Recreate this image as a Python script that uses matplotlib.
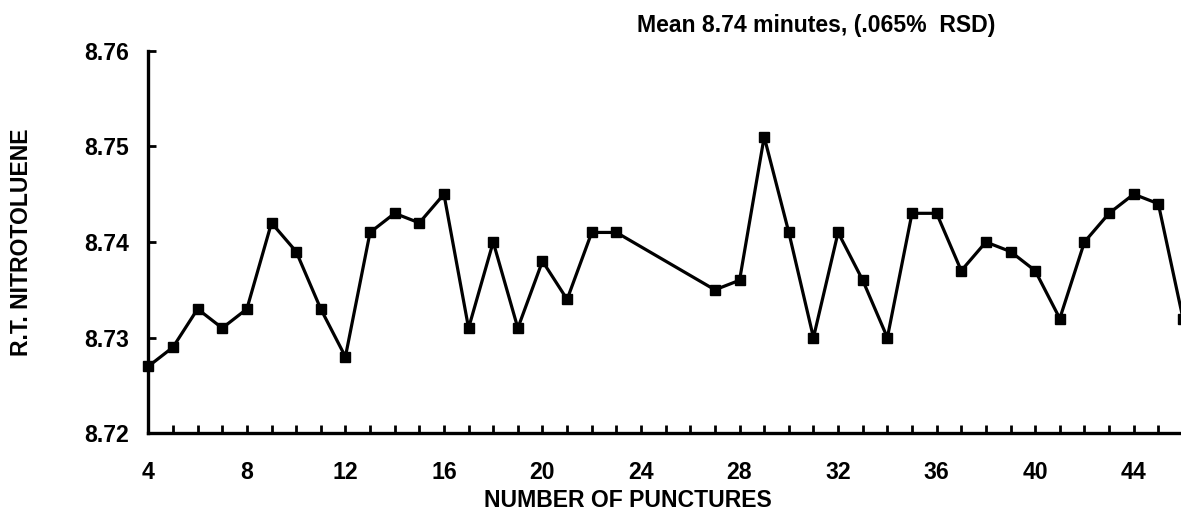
import matplotlib
matplotlib.use('Agg')
import matplotlib.pyplot as plt
from matplotlib.ticker import MultipleLocator, FormatStrFormatter

plt.rcParams['font.family'] = ['Liberation Sans', 'DejaVu Sans']
plt.rcParams['font.weight'] = 'bold'

# retention time of nitrotoluene vs number of septum punctures
punctures = [4, 5, 6, 7, 8, 9, 10, 11, 12, 13, 14, 15, 16, 17, 18, 19, 20, 21, 22, 23,
             27, 28, 29, 30, 31, 32, 33, 34, 35, 36, 37, 38, 39, 40, 41, 42, 43, 44, 45, 46]
ret_time = [8.727, 8.729, 8.733, 8.731, 8.733, 8.742, 8.739, 8.733, 8.728, 8.741,
            8.743, 8.742, 8.745, 8.731, 8.740, 8.731, 8.738, 8.734, 8.741, 8.741,
            8.735, 8.736, 8.751, 8.741, 8.730, 8.741, 8.736, 8.730, 8.743, 8.743,
            8.737, 8.740, 8.739, 8.737, 8.732, 8.740, 8.743, 8.745, 8.744, 8.732]

title_txt = 'Mean 8.74 minutes, (.065%  RSD)'
x_txt = 'NUMBER OF PUNCTURES'
y_txt = 'R.T. NITROTOLUENE'

fs = 16.6

fig = plt.figure(figsize=(11.81, 5.21), dpi=100)
ax = fig.add_axes([0.1256, 0.1683, 0.8744, 0.7344])

ax.plot(punctures, ret_time, color='black', lw=2.3, marker='s', ms=7,
        mfc='black', mec='black', clip_on=False, zorder=3)

ax.set_xlim(4, 45.92)
ax.set_ylim(8.72, 8.76)
ax.xaxis.set_major_locator(MultipleLocator(4))
ax.xaxis.set_minor_locator(MultipleLocator(1))
ax.yaxis.set_major_locator(MultipleLocator(0.01))
ax.yaxis.set_major_formatter(FormatStrFormatter('%.2f'))

for s in ['top', 'right']:
    ax.spines[s].set_visible(False)
for s in ['left', 'bottom']:
    ax.spines[s].set_linewidth(2.4)

ax.tick_params(axis='x', which='both', direction='in', length=6, width=2, labelsize=fs, pad=20)
ax.tick_params(axis='y', which='major', direction='in', length=6, width=2, labelsize=fs, pad=14)

fig.text(0.691, 0.952, title_txt, ha='center', va='center', fontsize=fs, fontweight='bold')
fig.text(0.532, 0.039, x_txt, ha='center', va='center', fontsize=fs, fontweight='bold')
fig.text(0.0184, 0.5355, y_txt, ha='center', va='center', rotation=90, fontsize=fs, fontweight='bold')

fig.savefig('out.png', dpi=100)
